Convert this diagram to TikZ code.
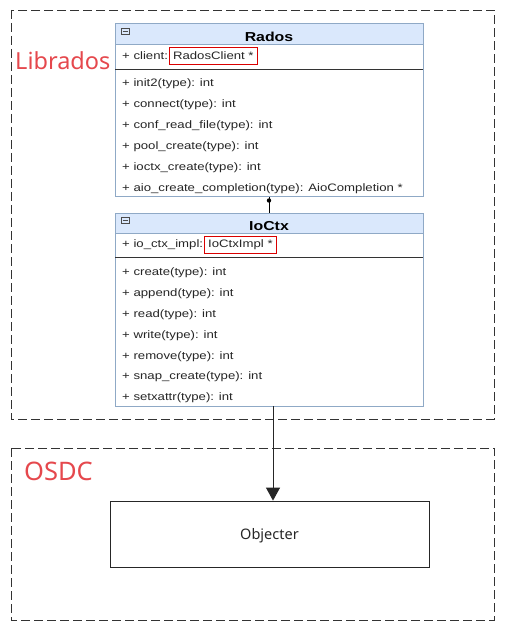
\documentclass[tikz,border=0pt]{standalone}
\usepackage{fontspec}
\setmainfont{Liberation Sans}
\newfontfamily\umlfont[FakeStretch=1.22]{Liberation Sans}
\newfontfamily\labelfont{Noto Sans}
\usetikzlibrary{arrows.meta}
\definecolor{hdrfill}{HTML}{DAE8FC}
\definecolor{clsborder}{HTML}{8FA9C6}
\definecolor{lblred}{HTML}{E5484D}
\definecolor{dashgray}{HTML}{333333}
\begin{document}
\begin{tikzpicture}[x=1pt,y=-1pt,
  group/.style={draw=dashgray,dash pattern=on 9pt off 4pt,line width=0.8pt},
  clsbox/.style={draw=clsborder,line width=1pt},
  hdr/.style={fill=hdrfill,draw=clsborder,line width=1pt},
  member/.style={anchor=west,inner sep=0pt,font=\umlfont\fontsize{10.8}{12}\selectfont,text=black!85},
  title/.style={inner sep=0pt,font=\umlfont\fontsize{13}{14}\selectfont\bfseries},
  redfield/.style={anchor=west,draw=red!85!black,line width=0.8pt,inner xsep=3.5pt,inner ysep=0pt,minimum height=17pt,font=\umlfont\fontsize{10.8}{12}\selectfont,text=black!85},
  grplabel/.style={anchor=west,inner sep=0pt,text=lblred,font=\labelfont\fontsize{23.5}{26}\selectfont},
  plainbox/.style={draw=black!85,line width=0.8pt,minimum width=319pt,minimum height=66pt,font=\labelfont\fontsize{14.5}{16}\selectfont,text=black!85}
]
\useasboundingbox (0,0) rectangle (509,628);
% groups
\draw[group] (11,10) rectangle (494,419);
\draw[group] (11,448) rectangle (494,620);
\node[grplabel] (libl) at (15,61) {Librados};
\node[grplabel,font=\labelfont\fontsize{25.5}{28}\selectfont] (osdcl) at (24,471) {OSDC};

% Rados class
\draw[clsbox,fill=white] (115,24) rectangle (423,197);
\draw[hdr] (115,24) rectangle (423,45);
\draw[black!80,line width=0.7pt] (115,69) -- (423,69);
\draw[black!70,line width=0.5pt] (121,28) rectangle (129,34);
\draw[black!70,line width=0.5pt] (122.5,31) -- (127.5,31);
\node[title] (rados) at (269,37) {Rados};
\node[member] (rclient) at (122,56) {+ client:};
\node[redfield] (rcltype) at ([xshift=1pt]rclient.east) {RadosClient *};
\node[member] (r1) at (122,83.5) {+ init2(type): int};
\node[member] (r2) at (122,104.5) {+ connect(type): int};
\node[member] (r3) at (122,125.5) {+ conf\_read\_file(type): int};
\node[member] (r4) at (122,146.5) {+ pool\_create(type): int};
\node[member] (r5) at (122,167.5) {+ ioctx\_create(type): int};
\node[member] (r6) at (122,188.5) {+ aio\_create\_completion(type): AioCompletion *};
\coordinate (radosbot) at (269,197);

% IoCtx class
\draw[clsbox,fill=white] (115,213) rectangle (423,406);
\draw[hdr] (115,213) rectangle (423,233);
\draw[black!80,line width=0.7pt] (115,257) -- (423,257);
\draw[black!70,line width=0.5pt] (121,217) rectangle (129,223);
\draw[black!70,line width=0.5pt] (122.5,220) -- (127.5,220);
\node[title] (ioctx) at (269,226.5) {IoCtx};
\node[member] (iattr) at (122,245) {+ io\_ctx\_impl:};
\node[redfield] (iattrtype) at ([xshift=1pt]iattr.east) {IoCtxImpl *};
\node[member] (i1) at (122,272.5) {+ create(type): int};
\node[member] (i2) at (122,293.5) {+ append(type): int};
\node[member] (i3) at (122,314.5) {+ read(type): int};
\node[member] (i4) at (122,335.5) {+ write(type): int};
\node[member] (i5) at (122,356.5) {+ remove(type): int};
\node[member] (i6) at (122,376.5) {+ snap\_create(type): int};
\node[member] (i7) at (122,397.5) {+ setxattr(type): int};
\coordinate (ioctxtop) at (269,213);

% composition connector
\draw[black,line width=0.8pt] (radosbot) -- (ioctxtop);
\fill[black] (269,200.5) circle (2.2pt);

% Objecter
\node[plainbox,text depth=1pt] (obj) at (269.5,534) {Objecter};
\coordinate (arrstart) at (273,406);
\draw[black!85,line width=1pt,-{Triangle[width=14pt,length=13pt]}] (arrstart) -- (arrstart |- obj.north);
\end{tikzpicture}
\end{document}
